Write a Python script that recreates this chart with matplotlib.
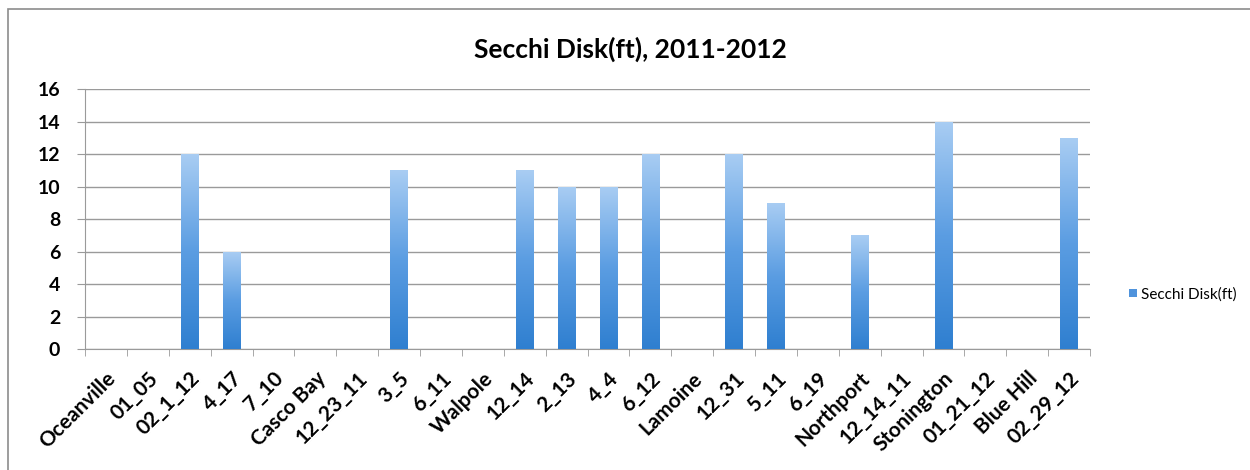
import numpy as np
import matplotlib.pyplot as plt
from matplotlib.patches import Rectangle
from matplotlib.colors import LinearSegmentedColormap

plt.rcParams['font.family'] = ['Lato', 'DejaVu Sans']

sites = ["Oceanville", "01_05", "02_1_12", "4_17", "7_10", "Casco Bay", "12_23_11",
         "3_5", "6_11", "Walpole", "12_14", "2_13", "4_4", "6_12", "Lamoine",
         "12_31", "5_11", "6_19", "Northport", "12_14_11", "Stonington",
         "01_21_12", "Blue Hill", "02_29_12"]
secchi = [0, 0, 12, 6, 0, 0, 0, 11, 0, 0, 11, 10, 10, 12, 0, 12, 9, 0, 7, 0, 14, 0, 0, 13]
yticks = [0, 2, 4, 6, 8, 10, 12, 14, 16]

fig = plt.figure(figsize=(12.5, 4.7), dpi=100)
fig.patches.append(Rectangle((0.0065, -0.01), 1.0, 0.99, transform=fig.transFigure,
                             fill=False, edgecolor='#8c8c8c', linewidth=1.2))

ax = fig.add_axes([0.068, 0.2574, 0.804, 0.5532])
x = np.arange(len(sites))
bars = ax.bar(x, secchi, width=0.42, color='none', edgecolor='none', zorder=3,
              label='Secchi Disk(ft)')

# vertical gradient fill, pale at the top, deeper blue at the base
cmap = LinearSegmentedColormap.from_list('bar', ['#2f7fd0', '#5b9de2', '#a9cdf3'])
grad = np.linspace(0, 1, 256).reshape(-1, 1)
for b, v in zip(bars, secchi):
    if v <= 0:
        continue
    x0 = b.get_x()
    im = ax.imshow(grad, cmap=cmap, origin='lower', aspect='auto',
                   extent=(x0, x0 + b.get_width(), 0, v), zorder=3)
    im.set_clip_path(b)

ax.set_xlim(-0.5, len(sites) - 0.5)
ax.set_ylim(0, 16)
ax.set_yticks(yticks)
ax.set_yticklabels([str(t) for t in yticks], fontsize=14, fontweight='bold')
ax.grid(axis='y', color='#9a9a9a', linewidth=1.0, zorder=0)
ax.set_axisbelow(True)

ax.set_xticks(x)
ax.set_xticklabels(sites, rotation=45, ha='right', rotation_mode='anchor',
                   fontsize=15, fontweight='bold')
ax.set_xticks(np.arange(-0.5, len(sites)), minor=True)
ax.tick_params(axis='x', which='major', length=0, pad=14)
ax.tick_params(axis='x', which='minor', length=5, color='#9a9a9a')
ax.tick_params(axis='y', length=6, color='#9a9a9a', pad=12)

for s in ['top', 'right']:
    ax.spines[s].set_visible(False)
for s in ['left', 'bottom']:
    ax.spines[s].set_color('#9a9a9a')

fig.text(0.504, 0.895, "Secchi Disk(ft), 2011-2012", ha='center', va='center',
         fontsize=19, fontweight='bold')

leg = ax.legend(loc='center left', bbox_to_anchor=(1.025, 0.21), frameon=False,
                fontsize=11, handlelength=0.5, handleheight=0.4, handletextpad=0.3)
for h in leg.legend_handles:
    h.set_facecolor('#4f93dc')

fig.savefig('out.png', dpi=100)
